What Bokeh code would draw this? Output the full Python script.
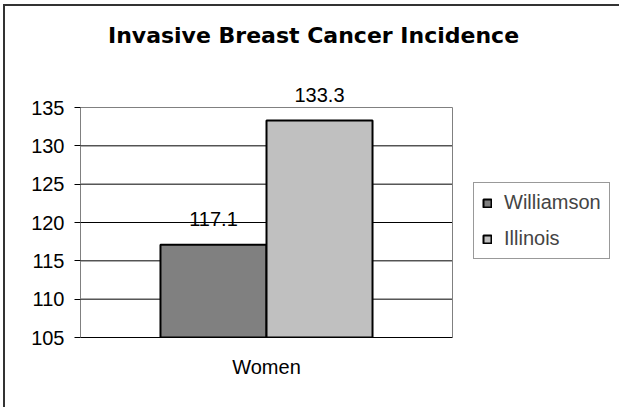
from bokeh.plotting import figure
from bokeh.models import (ColumnDataSource, Range1d, LabelSet, Label,
                          Legend, LegendItem, FixedTicker, CustomJSTickFormatter)
from bokeh.core.properties import value
from bokeh.embed import file_html
from bokeh.resources import INLINE

# ---- data ----
title_text = "Invasive Breast Cancer Incidence"
categories = ["Women"]
series_names = ["Williamson", "Illinois"]
williamson = [117.1]
illinois = [133.3]
y_ticks = [105, 110, 115, 120, 125, 130, 135]

FONT = "Liberation Sans"
TITLE_FONT = "DejaVu Sans"
bw = 0.285                      # bar width in category units
cat_pos = list(range(len(categories)))   # category i occupies [i-0.5, i+0.5]

src = ColumnDataSource(dict(
    x_w=[c - bw / 2 for c in cat_pos],
    x_i=[c + bw / 2 for c in cat_pos],
    williamson=williamson,
    illinois=illinois,
    w_lab=[f"{v:.1f}" for v in williamson],
    i_lab=[f"{v:.1f}" for v in illinois],
))

# frame covers plot area plus the room for title and legend (so nothing is clipped)
x_lo, x_hi = cat_pos[0] - 0.5, cat_pos[-1] + 0.5
x_end = x_lo + 541 / 372
y_end = y_ticks[0] + 331 / 230 * (y_ticks[-1] - y_ticks[0])

p = figure(width=616, height=403, output_backend="svg", toolbar_location=None,
           x_range=Range1d(x_lo, x_end), y_range=Range1d(y_ticks[0], y_end),
           min_border_left=75, min_border_right=0,
           min_border_top=0, min_border_bottom=72)
p.styles = {"margin-left": "3px", "margin-top": "4px",
            "border-left": "2px solid #333333", "border-top": "2px solid #333333"}
p.background_fill_color = "white"
p.border_fill_color = "white"
p.outline_line_color = None
p.xgrid.grid_line_color = None
p.ygrid.grid_line_color = None

# plot-area gridlines and border
grid_y = y_ticks[1:-1]
p.segment(x0=[x_lo] * len(grid_y), x1=[x_hi] * len(grid_y), y0=grid_y, y1=grid_y,
          line_color="black", line_width=1)
p.segment(x0=[x_lo], x1=[x_hi], y0=[y_ticks[-1]], y1=[y_ticks[-1]],
          line_color="#808080", line_width=1)
p.segment(x0=[x_hi], x1=[x_hi], y0=[y_ticks[0]], y1=[y_ticks[-1]],
          line_color="#808080", line_width=1)

r1 = p.vbar(x="x_w", top="williamson", bottom=y_ticks[0], width=bw, source=src,
            fill_color="#808080", line_color="black", line_width=2)
r2 = p.vbar(x="x_i", top="illinois", bottom=y_ticks[0], width=bw, source=src,
            fill_color="#C0C0C0", line_color="black", line_width=2)

for xcol, col, lab in (("x_w", "williamson", "w_lab"), ("x_i", "illinois", "i_lab")):
    p.add_layout(LabelSet(x=xcol, y=col, text=lab, source=src,
                          text_align="center", text_baseline="alphabetic", y_offset=19,
                          text_font=value(FONT), text_font_size=value("20px"),
                          text_color="black"))

# title (screen units relative to the frame's bottom-left)
p.add_layout(Label(x=233, y=302, x_units="screen", y_units="screen", text=title_text,
                   text_align="center", text_baseline="middle", text_font=TITLE_FONT,
                   text_font_size="22px", text_font_style="bold", text_color="black"))

# axes
p.yaxis.ticker = FixedTicker(ticks=y_ticks)
p.yaxis.bounds = (y_ticks[0], y_ticks[-1])
p.yaxis.axis_line_color = "#808080"
p.yaxis.major_tick_line_color = "black"
p.yaxis.major_tick_out = 6
p.yaxis.major_tick_in = 0
p.yaxis.minor_tick_line_color = None
p.yaxis.major_label_text_font = FONT
p.yaxis.major_label_text_font_size = "20px"
p.yaxis.major_label_text_color = "black"
p.yaxis.major_label_standoff = 10

p.xaxis.ticker = FixedTicker(ticks=cat_pos)
p.xaxis.formatter = CustomJSTickFormatter(args=dict(labels=categories),
                                          code="return labels[Math.round(tick)] || '';")
p.xaxis.bounds = (x_lo, x_hi)
p.xaxis.axis_line_color = "black"
p.xaxis.major_tick_line_color = None
p.xaxis.minor_tick_line_color = None
p.xaxis.major_label_text_font = FONT
p.xaxis.major_label_text_font_size = "20px"
p.xaxis.major_label_text_color = "black"
p.xaxis.major_label_standoff = 12

legend = Legend(items=[LegendItem(label=series_names[0], renderers=[r1]),
                       LegendItem(label=series_names[1], renderers=[r2])],
                location=(393, 78), orientation="vertical",
                glyph_width=10, glyph_height=10, label_standoff=12,
                label_text_font=FONT, label_text_font_size="20px", label_height=20,
                spacing=13, padding=8, margin=0,
                border_line_color="#333333", border_line_width=1,
                background_fill_color="white", background_fill_alpha=1)
p.add_layout(legend)

open("out.html", "w").write(file_html(p, INLINE))
